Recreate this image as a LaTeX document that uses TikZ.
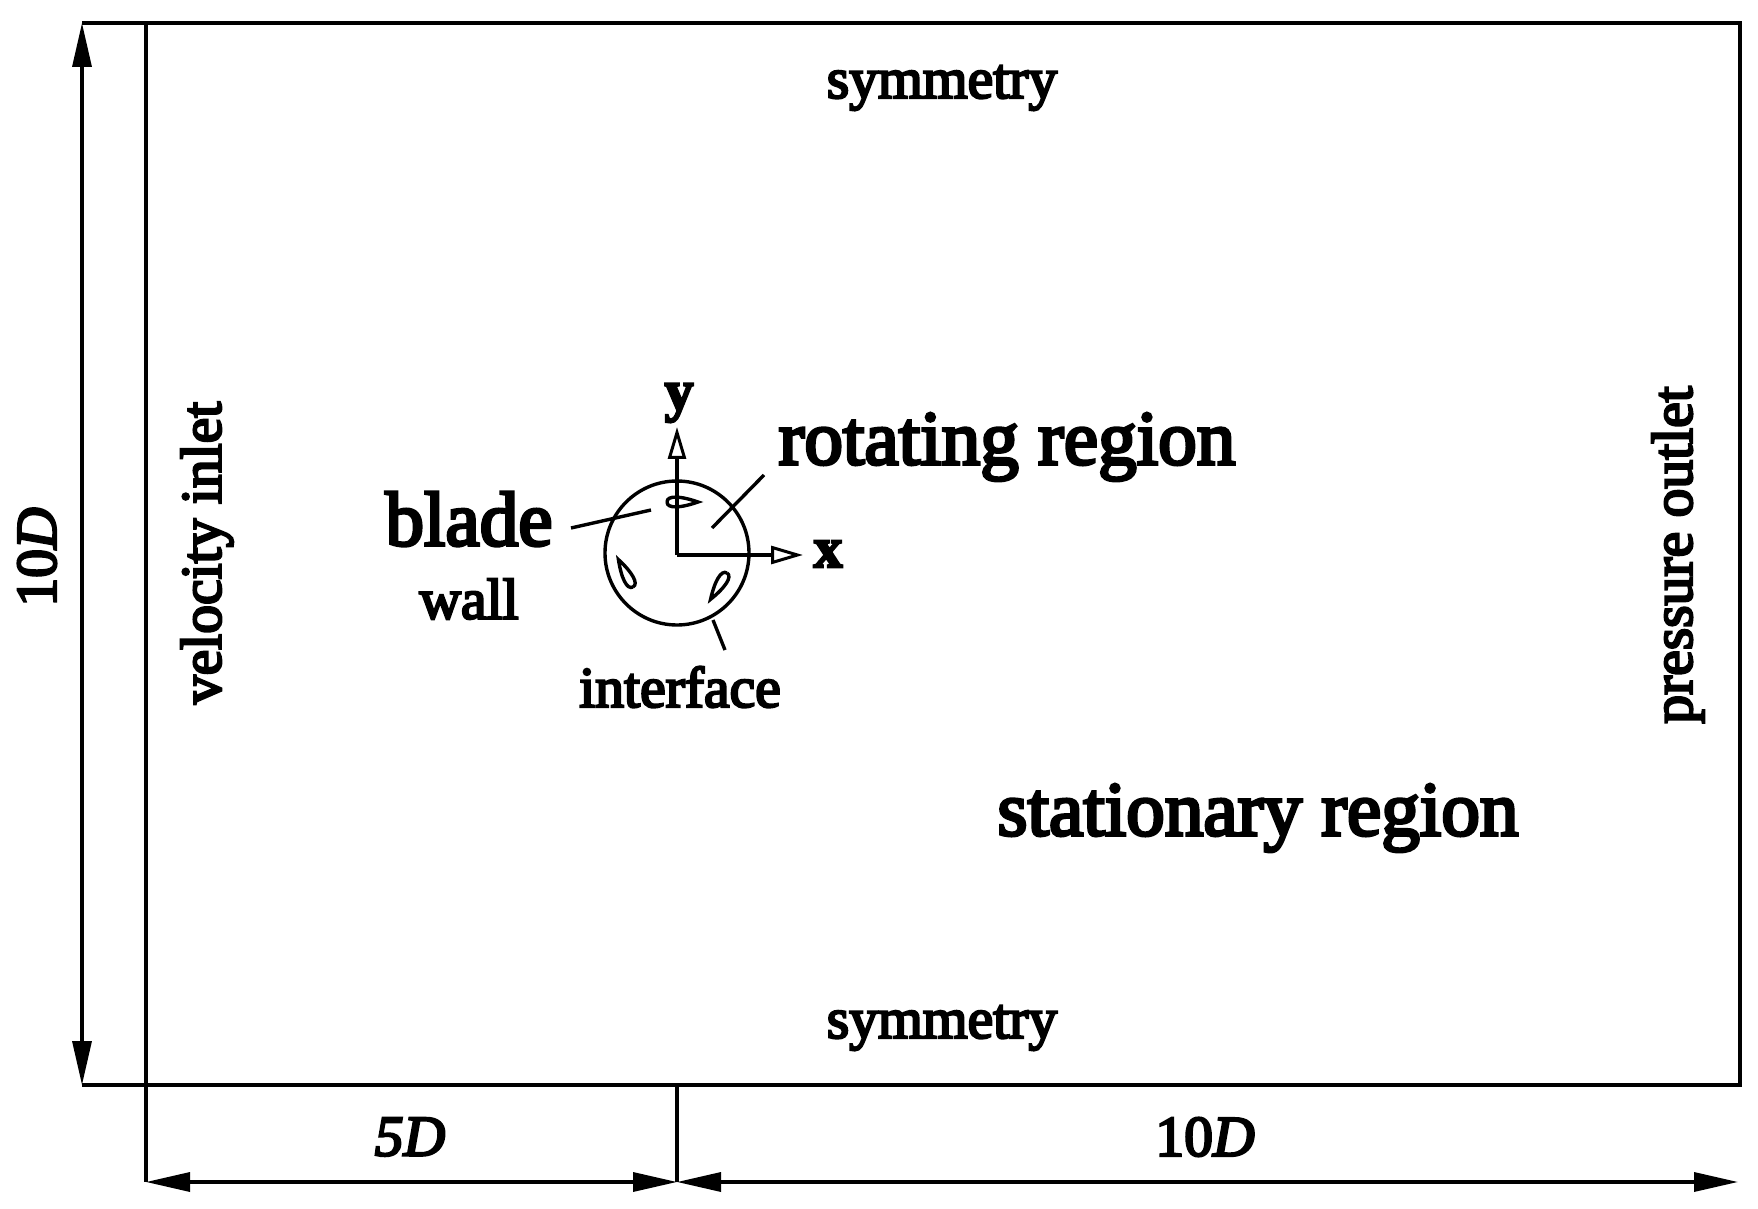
\documentclass[tikz,border=0pt]{standalone}
\usepackage{fontspec}
\setmainfont[RawFeature={embolden=4}]{Liberation Serif}
\usetikzlibrary{arrows.meta}
\tikzstyle{big}=[inner sep=0pt,font=\fontsize{38.6pt}{40pt}\selectfont]
\tikzstyle{lab}=[inner sep=0pt,font=\fontsize{28.8pt}{30pt}\selectfont]
\tikzstyle{wall}=[line width=1.9pt]
\tikzstyle{leader}=[line width=1.7pt]
\tikzstyle{dim}=[line width=1.7pt,{Triangle[length=22pt,width=9.5pt]}-{Triangle[length=22pt,width=9.5pt]}]
\tikzstyle{axis}=[line width=1.7pt,-{Triangle[open,length=16pt,width=9pt,line width=1.5pt]}]
\begin{document}
\begin{tikzpicture}[x=.5pt,y=-.5pt]
\useasboundingbox (0,0) rectangle (1758,1209);
\foreach \n/\x/\y in {tl/146/23, tr/1740/23, br/1740/1085, al/82/23, ab/82/1085, dl/146/1182, dm/677/1182, dr/1738/1182, mb/677/1085, o/677/555, ay/677/427, ax/803/555, ba/571/528, bb/651/510, ra/764/475, rb/712/528, ia/713/620, ib/725/650}
    \coordinate (\n) at (\x,\y);
\draw[wall] (al) -- (tr) -- (br) -- (ab);
\draw[wall] (tl) -- (dl);
\draw[leader] (mb) -- (dm);
\draw[dim] (al) -- (ab);
\draw[dim] (dl) -- (dm);
\draw[dim] (dm) -- (dr);
\node[circle,draw,leader,minimum size=72pt,inner sep=0pt] (iface) at (677,553) {};
\draw[axis] (o) -- (ay);
\draw[axis] (o) -- (ax);
\draw[leader] (ba) -- (bb);
\draw[leader] (ra) -- (rb);
\draw[leader] (ia) -- (ib);
\foreach \bx/\by/\rot in {667/502/0, 633/587/118, 727/573/238}
    \draw[leader,shift={(\bx,\by)},rotate=\rot] (0,0) .. controls (0,-7) and (14,-6) .. (31,0) .. controls (14,6) and (0,7) .. (0,0);
\foreach \n/\x/\y/\t in {symtop/942/88/symmetry, symbot/942/1028/symmetry, wall/469/599/wall, interface/680/687/interface, ylab/679/403/\textbf{y}, xlab/828/554/\textbf{x}, fived/410/1137/\textit{5D}, tend/1205/1137/{10\textit{D}}}
    \node[lab] (\n) at (\x,\y) {\t};
\foreach \n/\x/\y/\t in {rotating/1007/447/rotating region, stationary/1258/818/stationary region, blade/469/519/blade}
    \node[big] (\n) at (\x,\y) {\t};
\foreach \n/\x/\y/\t in {inlet/207/553/velocity inlet, outlet/1678/555/pressure outlet, heightd/37/557/{10\textit{D}}}
    \node[lab,rotate=90] (\n) at (\x,\y) {\t};
\end{tikzpicture}
\end{document}
